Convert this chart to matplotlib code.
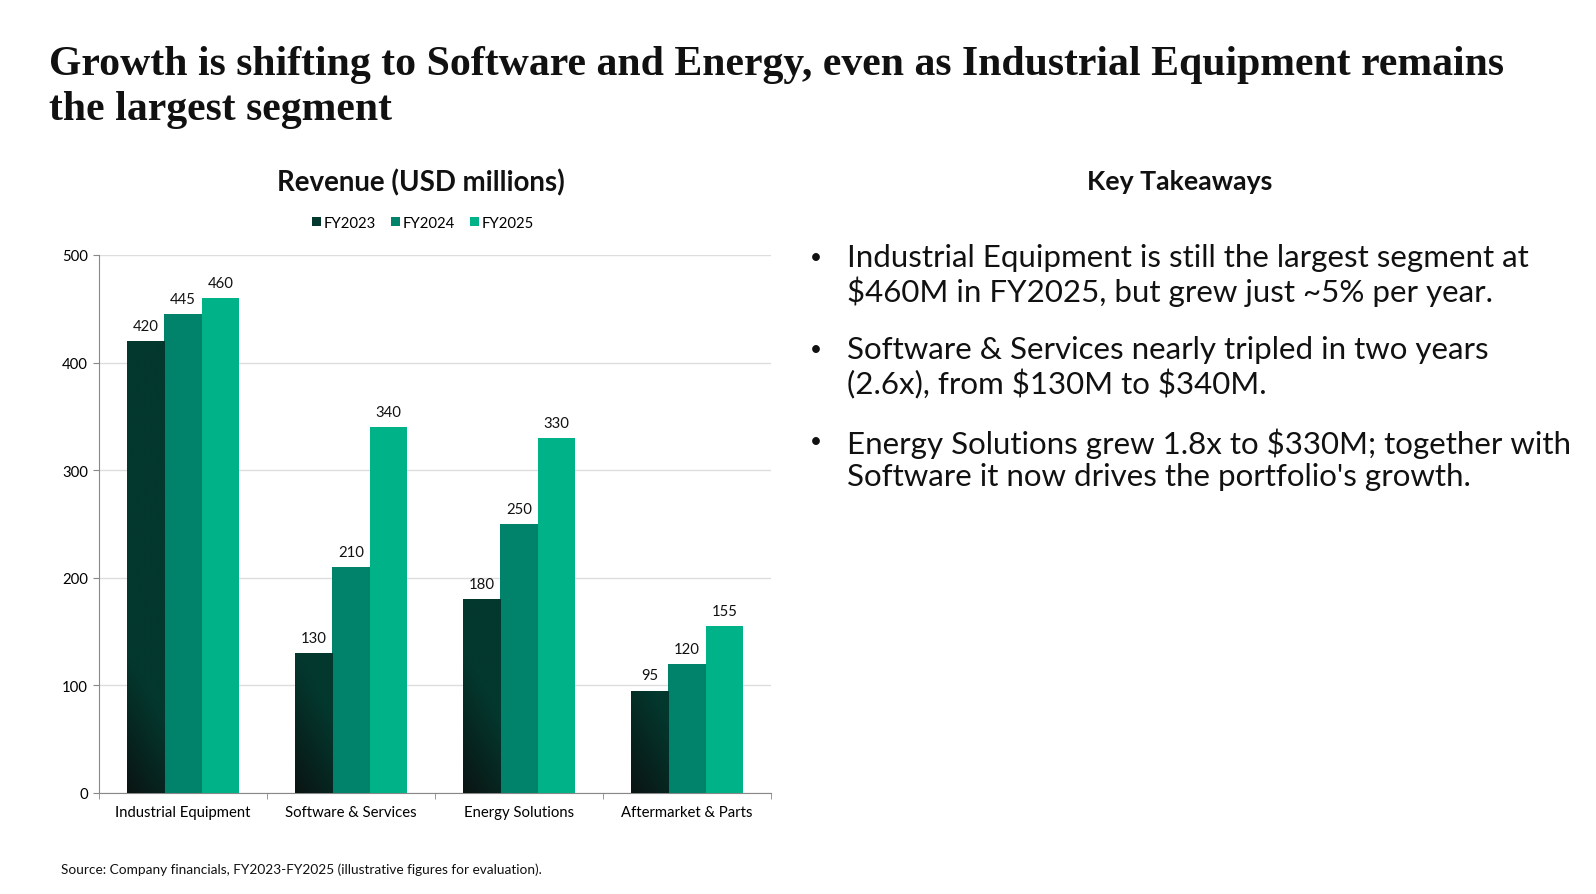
import matplotlib.pyplot as plt
import numpy as np
from matplotlib.colors import LinearSegmentedColormap
from matplotlib.patches import Patch

# data
segments = ["Industrial Equipment", "Software & Services", "Energy Solutions", "Aftermarket & Parts"]
years = ["FY2023", "FY2024", "FY2025"]
fy2023 = [420, 130, 180, 95]
fy2024 = [445, 210, 250, 120]
fy2025 = [460, 340, 330, 155]
y_ticks = [0, 100, 200, 300, 400, 500]

title = ("Growth is shifting to Software and Energy, even as Industrial Equipment remains\n"
         "the largest segment")
takeaways = [
    "Industrial Equipment is still the largest segment at\n$460M in FY2025, but grew just ~5% per year.",
    "Software & Services nearly tripled in two years\n(2.6x), from $130M to $340M.",
    "Energy Solutions grew 1.8x to $330M; together with\nSoftware it now drives the portfolio's growth.",
]
source = "Source: Company financials, FY2023-FY2025 (illustrative figures for evaluation)."

colors = ["#03382e", "#00836a", "#00b288"]
sans = ["Lato", "DejaVu Sans"]

plt.rcParams['font.family'] = sans
plt.rcParams['text.parse_math'] = False

W, H = 1596, 895
fig = plt.figure(figsize=(W / 100, H / 100), dpi=100)
fig.patch.set_facecolor("white")

ax = fig.add_axes([99 / W, 1 - 794 / H, 672 / W, 538 / H])

x = np.arange(len(segments))
w = 0.223
series = [fy2023, fy2024, fy2025]
for i, vals in enumerate(series):
    bars = ax.bar(x + (i - 1) * w, vals, width=w, color=colors[i], zorder=3)
    ax.bar_label(bars, labels=[str(v) for v in vals], padding=6, fontsize=10.7, color="#111111")
    if i == 0:
        # dark gradient on the first series, darker toward the bottom-left
        cmap = LinearSegmentedColormap.from_list("g", ["#0a1413", "#03382e", "#03382e"])
        gx, gy = np.meshgrid(np.linspace(0, 1, 50), np.linspace(0, 1, 200))
        for b in bars:
            bx, by = b.get_x(), b.get_y()
            bw, bh = b.get_width(), b.get_height()
            grad = np.clip((gy * bh + gx * 60) / 260.0, 0, 1)
            im = ax.imshow(grad, cmap=cmap, origin="lower", aspect="auto",
                           extent=[bx, bx + bw, by, by + bh], zorder=3.5, vmin=0, vmax=1)
            im.set_clip_path(b)

ax.set_xlim(-0.5, len(segments) - 0.5)
ax.set_ylim(0, 500)
ax.set_yticks(y_ticks)
ax.set_yticklabels([str(t) for t in y_ticks], fontsize=10.7)
ax.set_xticks(x)
ax.set_xticklabels(segments, fontsize=10.7)
ax.tick_params(axis="x", length=0, pad=9)
ax.set_xticks(np.arange(len(segments) + 1) - 0.5, minor=True)
ax.tick_params(axis="x", which="minor", length=4, color="#888888")
ax.tick_params(axis="y", length=4, color="#888888", pad=4)
ax.grid(axis="y", color="#dddddd", linewidth=1, zorder=0)
ax.set_axisbelow(True)
for s in ["top", "right"]:
    ax.spines[s].set_visible(False)
for s in ["left", "bottom"]:
    ax.spines[s].set_color("#888888")

fig.text(420.5 / W, 1 - 183 / H, "Revenue (USD millions)", ha="center", va="center",
         fontsize=19.9, fontweight="bold", color="#111111")
handles = [Patch(facecolor=c) for c in colors]
fig.legend(handles, years, loc="center", bbox_to_anchor=(423 / W, 1 - 224 / H), ncol=3,
           frameon=False, fontsize=10.7, handlelength=0.6, handleheight=0.6,
           handletextpad=0.2, columnspacing=1.0)

fig.text(49 / W, 1 - 87.5 / H, title, ha="left", va="center", fontsize=30.1,
         fontweight="bold", family=["Liberation Serif", "DejaVu Serif"], color="#111111",
         linespacing=1.26)

fig.text(1180 / W, 1 - 182 / H, "Key Takeaways", ha="center", va="center",
         fontsize=19.2, fontweight="bold", color="#111111")
ys = [275.7, 367.9, 459.9]
for yy, t in zip(ys, takeaways):
    fig.text(815.5 / W, 1 - (yy - 18) / H, "\u2022", ha="center", va="center",
             fontsize=15, color="#111111")
    fig.text(847 / W, 1 - yy / H, t, ha="left", va="center", fontsize=22.5,
             color="#111111", linespacing=1.19)

fig.text(61.4 / W, 1 - 869.6 / H, source, ha="left", va="center", fontsize=9.8, color="#111111")

fig.savefig("out.png", dpi=100, facecolor="white")
